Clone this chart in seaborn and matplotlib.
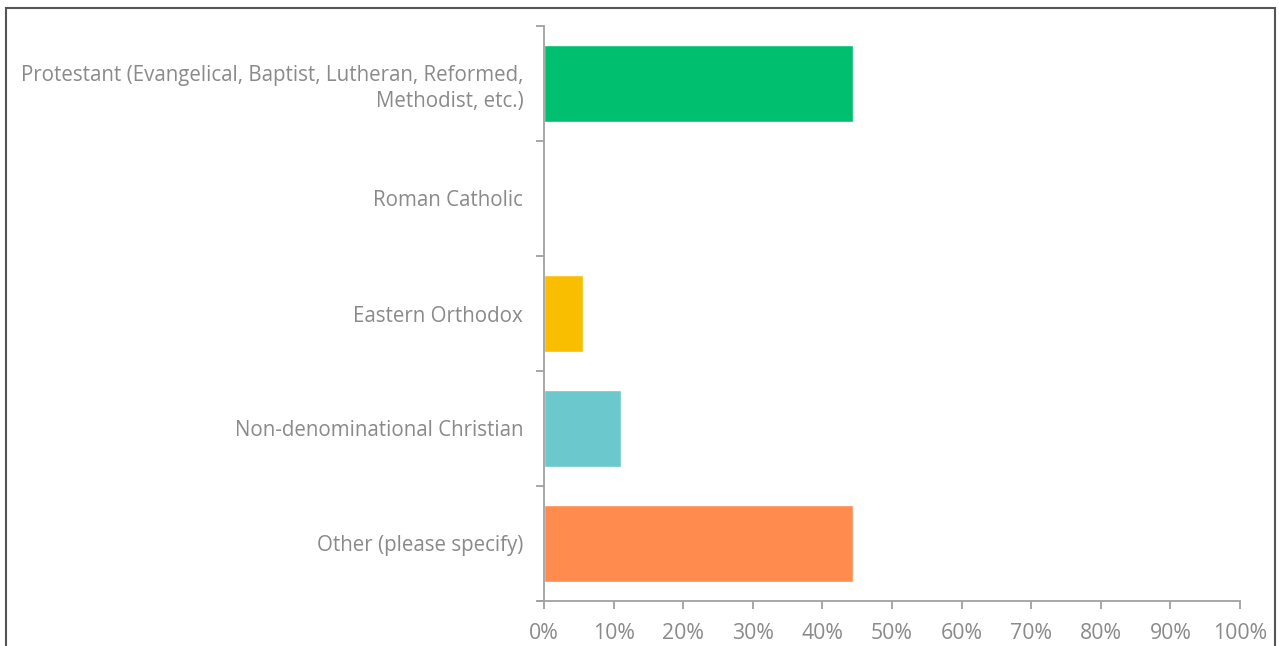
import matplotlib
matplotlib.use("Agg")
import matplotlib.pyplot as plt
import matplotlib.patches as mpatches
from matplotlib.ticker import FixedLocator, PercentFormatter
import seaborn as sns
import pandas as pd

categories = [
    "Protestant (Evangelical, Baptist, Lutheran, Reformed,\nMethodist, etc.)",
    "Roman Catholic",
    "Eastern Orthodox",
    "Non-denominational Christian",
    "Other (please specify)",
]
shares = [44.44, 0.0, 5.56, 11.11, 44.44]
colors = ["#00BF6F", "#F9BE00", "#F9BE00", "#6BC8CD", "#FF8B4F"]
x_ticks = list(range(0, 101, 10))

sns.set_theme(style="white")
plt.rcParams["font.family"] = ["Open Sans", "DejaVu Sans"]

text_gray = "#8A8A8A"
axis_gray = "#A0A0A0"

df = pd.DataFrame({"category": categories, "share": shares})

fig = plt.figure(figsize=(12.79, 6.46), dpi=100)
ax = fig.add_axes([544 / 1279, 1 - 601 / 646, (1240 - 544) / 1279, (601 - 26) / 646])

sns.barplot(
    data=df, x="share", y="category", hue="category",
    palette=dict(zip(categories, colors)), orient="h",
    width=0.67, legend=False, ax=ax, saturation=1,
)

ax.set_xlim(0, 100)
ax.set_ylim(4.5, -0.5)
ax.set_xticks(x_ticks)
ax.xaxis.set_major_formatter(PercentFormatter(decimals=0))
ax.set_xlabel("")
ax.set_ylabel("")

for side in ["top", "right"]:
    ax.spines[side].set_visible(False)
for side in ["left", "bottom"]:
    ax.spines[side].set_color(axis_gray)
    ax.spines[side].set_linewidth(1.3)

ax.tick_params(axis="x", which="major", length=6, width=1.3, color=axis_gray,
               labelcolor=text_gray, labelsize=15.3, pad=10, bottom=True)
ax.tick_params(axis="y", which="major", length=0, labelcolor=text_gray,
               labelsize=14.8, pad=15, left=True)
ax.yaxis.set_minor_locator(FixedLocator([-0.5, 0.5, 1.5, 2.5, 3.5, 4.5]))
ax.tick_params(axis="y", which="minor", length=6, width=1.3, color=axis_gray, left=True)
for lbl in ax.get_yticklabels():
    lbl.set_horizontalalignment("right")
    lbl.set_multialignment("right")
    lbl.set_linespacing(1.3)

ax.spines["bottom"].set_bounds(-0.9, 100)

border = mpatches.Rectangle(
    (6 / 1279, -0.05), (1275 - 6) / 1279, 1 - 8 / 646 + 0.05,
    transform=fig.transFigure, fill=False, edgecolor="#555555", linewidth=1.5,
)
fig.patches.append(border)

fig.savefig("out.png", dpi=100)
